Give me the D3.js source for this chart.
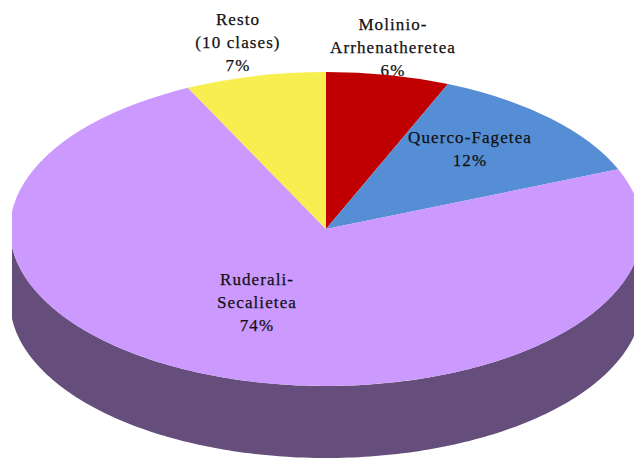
<!DOCTYPE html>
<html><head><meta charset="utf-8">
<script src="https://cdn.jsdelivr.net/npm/d3@7"></script>
<style>html,body{margin:0;padding:0;background:#fff;overflow:hidden}svg{display:block}
text{font-family:"Liberation Serif",serif;font-size:17px;fill:#111;stroke:#111;stroke-width:.25px;text-anchor:middle;letter-spacing:1.1px}</style>
</head><body><div id="c"></div>
<script>
const categories=["Molinio-Arrhenatheretea","Querco-Fagetea","Ruderali-Secalietea","Resto (10 clases)"];
const values=[6.3,12.5,74,7.2];
const percents=["6%","12%","74%","7%"];
const colors=["#c00000","#558ed5","#cc99ff","#f7ef4f"];
const sideColor="#654e7c";
const labelLines=[["Molinio-","Arrhenatheretea","6%"],["Querco-Fagetea","12%"],["Ruderali-","Secalietea","74%"],["Resto","(10 clases)","7%"]];
const labelAnchors=[[393,30],[470,143],[257,285],[238,25]];
const W=634,H=459,cx=326,cy=229,rx=316,ry=157,depth=72,clipLeft=12;
const svg=d3.select("#c").append("svg").attr("width",W).attr("height",H);
svg.append("clipPath").attr("id","pieClip").append("rect").attr("x",clipLeft).attr("y",0).attr("width",W-clipLeft).attr("height",H);
const lh=23;
function drawLabel(i){
 const t=svg.append("text").attr("x",labelAnchors[i][0]).attr("y",labelAnchors[i][1]);
 labelLines[i].forEach((l,j)=>t.append("tspan").attr("x",labelAnchors[i][0]).attr("dy",j?lh:0).text(l));
}
// the first label sits behind the pie: its last line is cut by the red slice
drawLabel(0);
const body=svg.append("g").attr("clip-path","url(#pieClip)");
const pie=d3.pie().sort(null)(values);
const arc=d3.arc().innerRadius(0).outerRadius(1);
// side wall
const steps=d3.range(90,270.5,1).map(a=>a*Math.PI/180);
const pt=a=>[cx+rx*Math.sin(a),cy-ry*Math.cos(a)];
const upper=steps.map(pt), lower=steps.map(a=>{const p=pt(a);return [p[0],p[1]+depth]}).reverse();
body.append("path").attr("d",d3.line()(upper.concat(lower))+"Z").attr("fill",sideColor);
// top slices: unit arc scaled to the ellipse
body.append("g").attr("transform",`translate(${cx},${cy}) scale(${rx},${ry})`)
 .selectAll("path").data(pie).join("path").attr("d",arc).attr("fill",(d,i)=>colors[i]);
[1,2,3].forEach(drawLabel);
</script></body></html>
